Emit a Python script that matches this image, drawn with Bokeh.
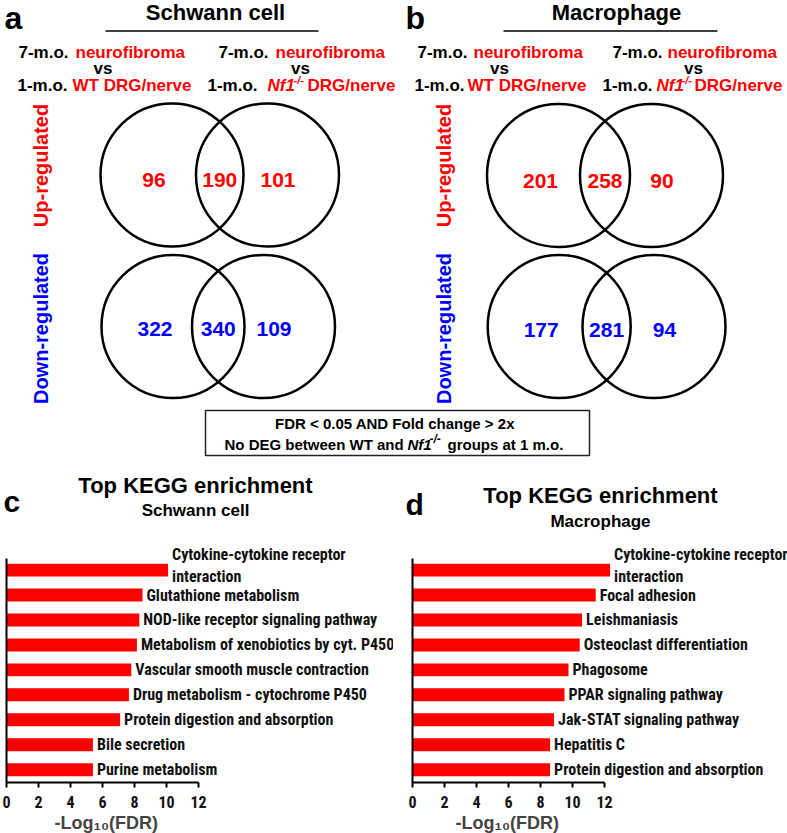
import math
import subprocess
from bokeh.plotting import figure
from bokeh.models import Range1d, FixedTicker, Title, ColumnDataSource
from bokeh.layouts import column, row
from bokeh.core.properties import value
from bokeh.embed import file_html
from bokeh.resources import INLINE

# ---------------- data ----------------
cell_types = ["Schwann cell", "Macrophage"]
schwann_up = [96, 190, 101]
schwann_down = [322, 340, 109]
macrophage_up = [201, 258, 90]
macrophage_down = [177, 281, 94]

schwann_terms = [
    "Cytokine-cytokine receptor\ninteraction",
    "Glutathione metabolism",
    "NOD-like receptor signaling pathway",
    "Metabolism of xenobiotics by cyt. P450",
    "Vascular smooth muscle contraction",
    "Drug metabolism - cytochrome P450",
    "Protein digestion and absorption",
    "Bile secretion",
    "Purine metabolism",
]
schwann_log_fdr = [10.1, 8.5, 8.3, 8.15, 7.8, 7.65, 7.1, 5.4, 5.4]

macrophage_terms = [
    "Cytokine-cytokine receptor\ninteraction",
    "Focal adhesion",
    "Leishmaniasis",
    "Osteoclast differentiation",
    "Phagosome",
    "PPAR signaling pathway",
    "Jak-STAT signaling pathway",
    "Hepatitis C",
    "Protein digestion and absorption",
]
macrophage_log_fdr = [12.35, 11.45, 10.6, 10.45, 9.75, 9.5, 8.85, 8.6, 8.6]

fdr_ticks = [0, 2, 4, 6, 8, 10, 12]

# ---------------- style ----------------
SANS = "Liberation Sans, Arial, sans-serif"
try:
    _fams = subprocess.run(["fc-list", ":", "family"], capture_output=True,
                           text=True, timeout=10).stdout
except Exception:
    _fams = ""
if "Liberation Sans Narrow" in _fams:
    NARROW, NARROW_PX = "Liberation Sans Narrow", 16
elif "Roboto Condensed" in _fams:
    NARROW, NARROW_PX = "Roboto Condensed", 16
elif "DejaVu Sans Condensed" in _fams:
    NARROW, NARROW_PX = "DejaVu Sans Condensed", 13
else:
    NARROW, NARROW_PX = SANS, 13.5
RED = "#FF0000"
BLUE = "#0000FF"

PAGE_W = 787
TOP_H = 538
BOT_H = 295


def put(p, x, y, s, size, color="black", align="left", style="bold", angle=0.0, font=SANS):
    p.text(x=[x], y=[y], text=[s], angle=angle,
           text_font=value(font), text_font_size=value(f"{size}px"),
           text_font_style=value(style), text_color=color,
           text_align=align, text_baseline="middle")


# ---------------- top panel (Venn diagrams) ----------------
top = figure(width=PAGE_W, height=TOP_H,
             x_range=Range1d(0, PAGE_W), y_range=Range1d(TOP_H, 0),
             output_backend="svg", toolbar_location=None,
             x_axis_location=None, y_axis_location=None,
             min_border=0, title=None)
top.grid.visible = False
top.outline_line_color = None

# panel letters and headers
put(top, 4, 17, "a", 32)
put(top, 405, 17, "b", 32)
put(top, 215, 12, cell_types[0], 22, align="center")
put(top, 616, 12, cell_types[1], 22, align="center")
top.segment(x0=[105, 503], y0=[30.5, 30.5], x1=[318, 717], y1=[30.5, 30.5],
            line_color="black", line_width=1.5)

# comparison headers: (x, y, text, color, style, size)
header_pieces = [
    # panel a, left
    (18, 52, "7-m.o.", "black", "bold", 17), (75, 52, "neurofibroma", RED, "bold", 17),
    (17, 85, "1-m.o.", "black", "bold", 17), (72, 85, "WT DRG/nerve", RED, "bold", 17),
    # panel a, right
    (218, 52, "7-m.o.", "black", "bold", 17), (275, 52, "neurofibroma", RED, "bold", 17),
    (207, 85, "1-m.o.", "black", "bold", 17), (267, 85, "Nf1", RED, "bold italic", 17),
    (293, 79, "-/-", RED, "bold italic", 11), (307, 85, "DRG/nerve", RED, "bold", 17),
    # panel b, left
    (417, 52, "7-m.o.", "black", "bold", 17), (473, 52, "neurofibroma", RED, "bold", 17),
    (414, 85, "1-m.o.", "black", "bold", 17), (467, 85, "WT DRG/nerve", RED, "bold", 17),
    # panel b, right
    (612, 52, "7-m.o.", "black", "bold", 17), (667, 52, "neurofibroma", RED, "bold", 17),
    (602, 85, "1-m.o.", "black", "bold", 17), (656, 85, "Nf1", RED, "bold italic", 17),
    (681, 79, "-/-", RED, "bold italic", 11), (694, 85, "DRG/nerve", RED, "bold", 17),
]
for x, y, s, c, st, sz in header_pieces:
    put(top, x, y, s, sz, color=c, style=st)
for xc in (102.5, 300, 499, 693):
    put(top, xc, 68, "vs", 17, align="center")

# side labels
for xc in (40.5, 443):
    put(top, xc, 165, "Up-regulated", 20, color=RED, align="center", angle=math.pi / 2)
    put(top, xc, 328, "Down-regulated", 20, color=BLUE, align="center", angle=math.pi / 2)

# Venn circles and counts
venns = [
    (171.5, 267.0, 174.5, 179.5, schwann_up, RED),
    (172.5, 263.0, 326.0, 328.5, schwann_down, BLUE),
    (558.0, 651.0, 175.0, 180.0, macrophage_up, RED),
    (558.7, 653.5, 326.0, 329.0, macrophage_down, BLUE),
]
for cl, cr, cy, ty, counts, col in venns:
    top.circle(x=[cl, cr], y=[cy, cy], radius=71.5, fill_color=None,
               line_color="black", line_width=2.5)
    src = ColumnDataSource(dict(x=[cl - 18, (cl + cr) / 2, cr + 10.5], y=[ty] * 3,
                                text=[str(v) for v in counts]))
    top.text(x="x", y="y", text="text", source=src, text_font=value(SANS),
             text_font_size=value("21px"), text_font_style=value("bold"),
             text_color=col, text_align="center", text_baseline="middle")

# criteria box
top.quad(left=[205], right=[589], top=[410], bottom=[455], fill_color=None,
         line_color="#222222", line_width=1.5)
put(top, 394.5, 423, "FDR < 0.05 AND Fold change > 2x", 15, align="center")
put(top, 224, 444, "No DEG between WT and", 15)
put(top, 407, 444, "Nf1", 15, style="bold italic")
put(top, 429, 438, "-/-", 12, style="bold italic")
put(top, 447, 444, "groups at 1 m.o.", 15)

# KEGG titles
put(top, 3, 501, "c", 30)
put(top, 405, 504, "d", 30)
put(top, 195, 485, "Top KEGG enrichment", 22, align="center")
put(top, 195, 510, cell_types[0], 17, align="center")
put(top, 600, 495, "Top KEGG enrichment", 22, align="center")
put(top, 600, 521, cell_types[1], 17, align="center")

# ---------------- bottom panels (KEGG bars) ----------------
PX = 16.0         # pixels per -log10 unit
ROW_PX = 25.25    # pixels per bar row
FIRST_ROW = 32.0  # first bar centre below frame top (px)
FRAME_H = 247.0
AXIS_TOP = 12.0   # top of left axis line below frame top (px)


def kegg(terms, vals, width, left_border, title_offset):
    n = len(terms)
    y_top = -FIRST_ROW / ROW_PX
    y_bot = y_top + FRAME_H / ROW_PX
    frame_w = width - left_border
    p = figure(width=width, height=BOT_H,
               x_range=Range1d(0, frame_w / PX), y_range=Range1d(y_bot, y_top),
               output_backend="svg", toolbar_location=None, title=None,
               min_border_left=left_border, min_border_right=0,
               min_border_top=0, min_border_bottom=0)
    p.grid.visible = False
    p.outline_line_color = None

    idx = list(range(n))
    p.hbar(y=idx, left=0, right=vals, height=0.52, fill_color=RED, line_color=None)
    src = ColumnDataSource(dict(x=vals, y=idx, text=terms,
                                dy=[-5 if "\n" in t else 0 for t in terms]))
    p.text(x="x", y="y", text="text", source=src, x_offset=4, y_offset="dy",
           text_font=value(NARROW), text_font_size=value(f"{NARROW_PX}px"),
           text_font_style=value("bold"), text_color="#111111",
           text_align="left", text_baseline="middle", text_line_height=1.15)

    xa = p.xaxis[0]
    xa.ticker = FixedTicker(ticks=fdr_ticks)
    xa.bounds = (fdr_ticks[0], fdr_ticks[-1])
    xa.axis_line_width = 2
    xa.major_tick_line_width = 2
    xa.major_tick_out = 5
    xa.major_tick_in = 0
    xa.minor_tick_out = 0
    xa.minor_tick_in = 0
    xa.major_label_text_font = NARROW
    xa.major_label_text_font_size = "16px"
    xa.major_label_text_font_style = "bold"
    xa.major_label_text_color = "#111111"
    xa.major_label_standoff = 8

    ya = p.yaxis[0]
    ya.ticker = FixedTicker(ticks=[])
    ya.bounds = (-AXIS_TOP / ROW_PX, y_bot)
    ya.axis_line_width = 2
    ya.major_tick_out = 0
    ya.major_tick_in = 0
    ya.minor_tick_out = 0
    ya.minor_tick_in = 0
    ya.major_label_standoff = 0

    t = Title(text="-Log\u2081\u2080(FDR)", align="left", offset=title_offset,
              text_font=SANS, text_font_size="18px", text_font_style="bold",
              standoff=1)
    p.add_layout(t, "below")
    return p


fig_c = kegg(schwann_terms, schwann_log_fdr, 393, 6, 48)
fig_d = kegg(macrophage_terms, macrophage_log_fdr, 394, 19, 43)

layout = column(top, row(fig_c, fig_d))
open("out.html", "w").write(file_html(layout, INLINE))
